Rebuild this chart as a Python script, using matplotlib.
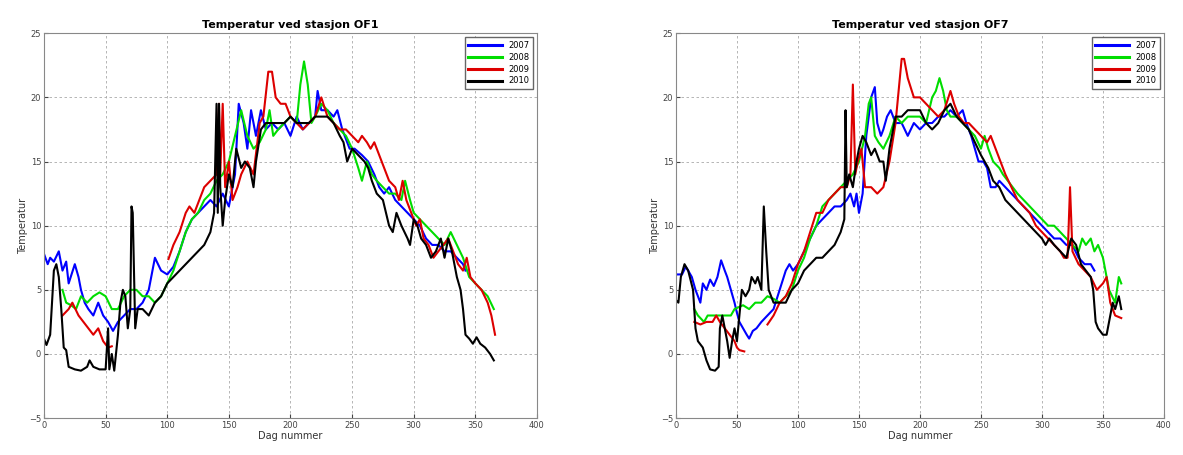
import matplotlib
matplotlib.use("Agg")
import matplotlib.pyplot as plt

years = ["2007", "2008", "2009", "2010"]
colors = ["#0000ff", "#00dd00", "#dd0000", "#000000"]
titles = ["Temperatur ved stasjon OF1", "Temperatur ved stasjon OF7"]
xlabel = "Dag nummer"
ylabel = "Temperatur"
xticks = [0, 50, 100, 150, 200, 250, 300, 350, 400]
yticks = [-5, 0, 5, 10, 15, 20, 25]

# ---------------- OF1 ----------------
of1_2007_day = [0, 3, 5, 8, 12, 15, 18, 20, 25, 28, 30, 33, 36, 40, 44, 48, 52, 56, 60, 65, 70, 75, 80, 85, 90, 95,
                100, 105, 110, 115, 120, 125, 130, 135, 140, 145, 150, 155, 158, 162, 165, 168, 172, 176, 180, 185,
                190, 195, 200, 205, 210, 215, 220, 222, 225, 230, 235, 238, 242, 248, 252, 258, 263, 268, 272, 276,
                280, 285, 290, 295, 300, 305, 310, 315, 320, 325, 330, 335, 340, 342]
of1_2007_temp = [7.8, 7.0, 7.5, 7.2, 8.0, 6.5, 7.2, 5.5, 7.0, 6.0, 5.0, 4.0, 3.5, 3.0, 4.0, 3.0, 2.5, 1.8, 2.5, 3.0,
                 3.5, 3.5, 4.0, 5.0, 7.5, 6.5, 6.2, 6.8, 8.0, 9.5, 10.5, 11.0, 11.5, 12.0, 11.5, 12.5, 11.5, 14.0,
                 19.5, 18.0, 16.0, 19.0, 17.0, 19.0, 17.5, 18.0, 17.5, 18.0, 17.0, 18.5, 17.5, 18.0, 18.5, 20.5,
                 19.0, 19.0, 18.5, 19.0, 17.5, 16.0, 16.0, 15.5, 15.0, 14.0, 13.0, 12.5, 13.0, 12.0, 11.5, 11.0,
                 10.5, 10.0, 9.0, 8.5, 8.5, 8.0, 8.0, 7.5, 7.0, 6.5]

of1_2008_day = [15, 18, 22, 26, 30, 35, 40, 45, 50, 55, 60, 65, 70, 75, 80, 85, 90, 95, 100, 105, 110, 115, 120, 125,
                130, 135, 140, 145, 150, 155, 160, 165, 170, 175, 180, 183, 186, 190, 195, 200, 205, 208, 211, 214,
                217, 220, 225, 230, 235, 240, 245, 250, 255, 258, 262, 266, 270, 275, 280, 285, 290, 293, 297, 300,
                305, 310, 315, 320, 325, 330, 335, 340, 345, 350, 355, 360, 365]
of1_2008_temp = [5.0, 4.0, 3.8, 3.5, 4.5, 4.0, 4.5, 4.8, 4.5, 3.5, 3.5, 4.5, 5.0, 5.0, 4.5, 4.5, 4.0, 4.5, 5.5, 6.5,
                 8.0, 9.5, 10.5, 11.0, 12.0, 12.5, 13.5, 14.0, 15.0, 17.0, 19.0, 17.0, 16.0, 16.5, 17.5, 19.0, 17.0,
                 17.5, 18.0, 18.5, 18.0, 21.0, 22.8, 21.0, 18.0, 18.5, 19.5, 19.0, 18.0, 17.5, 17.0, 16.0, 14.5,
                 13.5, 15.0, 14.0, 13.5, 13.0, 12.5, 12.5, 12.0, 13.5, 12.0, 11.0, 10.5, 10.0, 9.5, 9.0, 8.5, 9.5,
                 8.5, 7.5, 6.0, 5.5, 5.0, 4.5, 3.5]

of1_2009_day = [15, 20, 23, 28, 32, 36, 40, 44, 48, 52, 55, None, 101, 105, 110, 115, 118, 122, 126, 130, 135, 140,
                142, 143, 145, 147, 150, 153, 157, 160, 165, 170, 175, 178, 182, 185, 188, 192, 196, 200, 205, 210,
                215, 220, 225, 230, 235, 240, 245, 250, 255, 258, 262, 265, 268, 272, 276, 280, 285, 288, 291, 294,
                298, 302, 305, 308, 312, 316, 320, 324, 328, 332, 336, 340, 343, 346, 350, 355, 360, 363, 366]
of1_2009_temp = [3.0, 3.5, 4.0, 3.0, 2.5, 2.0, 1.5, 2.0, 1.0, 0.5, 0.6, None, 7.4, 8.5, 9.5, 11.0, 11.5, 11.0, 12.0,
                 13.0, 13.5, 14.0, 19.5, 14.0, 19.5, 13.0, 15.0, 12.0, 13.0, 14.0, 15.0, 14.0, 18.0, 18.5, 22.0,
                 22.0, 20.0, 19.5, 19.5, 18.5, 18.0, 17.5, 18.0, 18.5, 20.0, 18.5, 18.0, 17.5, 17.5, 17.0, 16.5,
                 17.0, 16.5, 16.0, 16.5, 15.5, 14.5, 13.5, 13.0, 12.0, 13.5, 12.0, 11.0, 10.0, 10.5, 9.0, 8.5, 7.5,
                 8.0, 8.5, 9.0, 8.0, 7.0, 6.5, 7.5, 6.0, 5.5, 5.0, 4.0, 3.0, 1.5]

of1_2010_day = [0, 2, 5, 8, 10, 12, 14, 16, 18, 20, 25, 30, 35, 37, 40, 45, 50, 52, 53, 55, 57, 60, 62, 64, 66, 68,
                70, 71, 72, 74, 76, 80, 85, 90, 95, 100, 105, 110, 115, 120, 125, 130, 135, 138, 140, 141, 142, 143,
                145, 147, 150, 153, 156, 160, 163, 167, 170, 172, 176, 180, 185, 190, 195, 200, 205, 210, 215, 220,
                225, 230, 235, 240, 243, 246, 250, 255, 260, 263, 266, 270, 275, 280, 283, 286, 290, 295, 297, 300,
                303, 306, 310, 314, 318, 322, 325, 328, 331, 335, 338, 340, 342, 345, 348, 351, 354, 358, 362, 365]
of1_2010_temp = [1.2, 0.7, 1.5, 6.5, 7.0, 6.0, 3.5, 0.5, 0.3, -1.0, -1.2, -1.3, -1.0, -0.5, -1.0, -1.2, -1.2, 2.0,
                 -1.2, 0.0, -1.3, 1.5, 4.0, 5.0, 4.5, 2.0, 3.5, 11.5, 11.0, 2.0, 3.5, 3.5, 3.0, 4.0, 4.5, 5.5, 6.0,
                 6.5, 7.0, 7.5, 8.0, 8.5, 9.5, 11.0, 19.5, 11.0, 19.5, 13.0, 10.0, 12.0, 14.0, 13.0, 16.0, 14.5,
                 15.0, 14.5, 13.0, 15.0, 17.5, 18.0, 18.0, 18.0, 18.0, 18.5, 18.0, 18.0, 18.0, 18.5, 18.5, 18.5,
                 18.0, 17.0, 16.5, 15.0, 16.0, 15.5, 15.0, 14.5, 13.5, 12.5, 12.0, 10.0, 9.5, 11.0, 10.0, 9.0, 8.5,
                 10.5, 10.0, 9.0, 8.5, 7.5, 8.0, 9.0, 7.5, 9.0, 8.0, 6.0, 5.0, 3.5, 1.5, 1.2, 0.8, 1.3, 0.8, 0.5,
                 0.0, -0.5]

# ---------------- OF7 ----------------
of7_2007_day = [0, 5, 8, 10, 13, 16, 18, 20, 22, 25, 28, 31, 34, 37, 40, 42, 45, 48, 50, 52, 55, 58, 60, 63, 66, 70,
                75, 80, 85, 90, 93, 96, 100, 105, 110, 115, 120, 125, 130, 135, 140, 143, 146, 148, 150, 153, 156,
                160, 163, 165, 168, 170, 173, 176, 180, 185, 190, 195, 200, 205, 210, 215, 220, 225, 230, 235, 238,
                242, 245, 248, 252, 255, 258, 262, 265, 270, 275, 280, 285, 290, 295, 300, 305, 310, 315, 320, 325,
                330, 335, 340, 343]
of7_2007_temp = [6.2, 6.2, 6.8, 6.5, 6.0, 5.0, 4.5, 4.0, 5.5, 5.0, 5.8, 5.3, 6.0, 7.3, 6.5, 6.0, 5.0, 4.0, 3.2, 2.5,
                 2.0, 1.5, 1.2, 1.8, 2.0, 2.5, 3.0, 3.5, 5.0, 6.5, 7.0, 6.5, 7.0, 8.0, 9.0, 10.0, 10.5, 11.0, 11.5,
                 11.5, 12.0, 12.5, 11.5, 12.5, 11.0, 12.5, 17.0, 20.0, 20.8, 18.0, 17.0, 17.5, 18.5, 19.0, 18.0,
                 18.0, 17.0, 18.0, 17.5, 18.0, 18.0, 18.5, 18.5, 19.0, 18.5, 19.0, 18.0, 17.0, 16.0, 15.0, 15.0,
                 14.5, 13.0, 13.0, 13.5, 13.0, 12.5, 12.0, 11.5, 11.0, 10.5, 10.0, 9.5, 9.0, 9.0, 8.5, 8.5, 7.5,
                 7.0, 7.0, 6.5]

of7_2008_day = [15, 18, 20, 23, 26, 30, 35, 40, 45, 48, 55, 60, 65, 70, 75, 80, 85, 90, 95, 100, 105, 110, 115, 120,
                125, 130, 135, 140, 145, 150, 155, 158, 160, 163, 166, 170, 175, 180, 185, 190, 195, 200, 205, 210,
                213, 216, 219, 222, 225, 230, 235, 240, 245, 250, 253, 256, 260, 265, 268, 272, 276, 280, 285, 290,
                295, 300, 305, 310, 315, 320, 325, 330, 333, 336, 340, 343, 346, 350, 355, 360, 363, 365]
of7_2008_temp = [3.5, 3.0, 2.8, 2.5, 3.0, 3.0, 3.0, 3.0, 3.0, 3.5, 3.8, 3.5, 4.0, 4.0, 4.5, 4.3, 4.0, 4.5, 5.0, 6.5,
                 7.5, 9.0, 10.0, 11.5, 12.0, 12.5, 13.0, 13.5, 14.0, 15.0, 17.0, 19.5, 20.0, 17.0, 16.5, 16.0, 17.0,
                 18.5, 18.0, 18.5, 18.5, 18.5, 18.0, 20.0, 20.5, 21.5, 20.5, 19.0, 18.5, 18.5, 18.0, 17.5, 17.0,
                 16.0, 17.0, 16.0, 15.0, 14.5, 14.0, 13.5, 13.0, 12.5, 12.0, 11.5, 11.0, 10.5, 10.0, 10.0, 9.5, 9.0,
                 8.5, 8.0, 9.0, 8.5, 9.0, 8.0, 8.5, 7.5, 5.0, 4.0, 6.0, 5.5]

of7_2009_day = [15, 20, 25, 30, 33, 36, 40, 44, 48, 50, 52, 56, None, 75, 80, 85, 90, 95, 100, 105, 110, 115, 120,
                125, 130, 135, 140, 143, 145, 147, 149, 152, 155, 160, 165, 170, 175, 180, 183, 185, 187, 190, 195,
                200, 205, 210, 215, 220, 225, 228, 232, 236, 240, 245, 250, 255, 258, 262, 266, 270, 275, 280, 285,
                290, 295, 300, 305, 310, 315, 318, 321, 323, 325, 330, 335, 340, 345, 350, 353, 356, 360, 365]
of7_2009_temp = [2.5, 2.3, 2.5, 2.5, 3.0, 2.5, 2.0, 1.5, 1.0, 0.5, 0.3, 0.2, None, 2.3, 3.0, 4.0, 4.5, 5.5, 7.0, 8.0,
                 9.5, 11.0, 11.0, 12.0, 12.5, 13.0, 13.0, 14.0, 21.0, 14.0, 15.0, 16.0, 13.0, 13.0, 12.5, 13.0,
                 15.0, 18.0, 21.0, 23.0, 23.0, 21.5, 20.0, 20.0, 19.5, 19.0, 18.5, 19.0, 20.5, 19.5, 18.5, 18.0,
                 18.0, 17.5, 17.0, 16.5, 17.0, 16.0, 15.0, 14.0, 13.0, 12.0, 11.5, 11.0, 10.0, 9.5, 9.0, 8.5, 8.0,
                 7.5, 7.5, 13.0, 8.0, 7.0, 6.5, 6.0, 5.0, 5.5, 6.0, 4.0, 3.0, 2.8]

of7_2010_day = [0, 2, 4, 7, 10, 14, 16, 18, 22, 25, 28, 32, 35, 36, 38, 40, 42, 44, 46, 48, 50, 52, 54, 57, 60, 62,
                65, 67, 70, 72, 74, 76, 78, 80, 85, 90, 95, 100, 105, 110, 115, 120, 125, 130, 135, 138, 139, 140,
                142, 145, 148, 150, 153, 156, 160, 163, 167, 170, 172, 175, 180, 185, 190, 195, 200, 205, 210, 215,
                220, 225, 230, 235, 240, 245, 250, 253, 256, 260, 265, 270, 275, 280, 285, 290, 295, 300, 303, 306,
                310, 315, 320, 324, 328, 332, 336, 340, 342, 344, 346, 350, 353, 355, 358, 360, 363, 365]
of7_2010_temp = [4.2, 4.0, 6.0, 7.0, 6.5, 5.0, 2.0, 1.0, 0.5, -0.5, -1.2, -1.3, -1.0, 2.0, 3.0, 2.0, 1.0, -0.3, 1.0,
                 2.0, 1.0, 3.0, 5.0, 4.5, 5.0, 6.0, 5.5, 6.0, 5.0, 11.5, 8.0, 5.0, 4.5, 4.0, 4.0, 4.0, 5.0, 5.5,
                 6.5, 7.0, 7.5, 7.5, 8.0, 8.5, 9.5, 10.5, 19.0, 13.0, 14.0, 13.0, 15.0, 16.0, 17.0, 16.5, 15.5,
                 16.0, 15.0, 15.0, 13.5, 16.0, 18.5, 18.5, 19.0, 19.0, 19.0, 18.0, 17.5, 18.0, 19.0, 19.5, 18.5,
                 18.0, 17.5, 16.5, 15.5, 15.0, 14.5, 13.5, 13.0, 12.0, 11.5, 11.0, 10.5, 10.0, 9.5, 9.0, 8.5, 9.0,
                 8.5, 8.0, 7.5, 9.0, 8.5, 7.0, 6.5, 6.0, 5.0, 2.5, 2.0, 1.5, 1.5, 2.5, 4.0, 3.5, 4.5, 3.5]

stations = [
    [(of1_2007_day, of1_2007_temp), (of1_2008_day, of1_2008_temp),
     (of1_2009_day, of1_2009_temp), (of1_2010_day, of1_2010_temp)],
    [(of7_2007_day, of7_2007_temp), (of7_2008_day, of7_2008_temp),
     (of7_2009_day, of7_2009_temp), (of7_2010_day, of7_2010_temp)],
]


def clean(v):
    return [float("nan") if a is None else a for a in v]


fig = plt.figure(figsize=(11.83, 4.55), dpi=100)
axes_rects = [[0.0372, 0.081, 0.4167, 0.846], [0.5714, 0.081, 0.4125, 0.846]]

for rect, title, series in zip(axes_rects, titles, stations):
    ax = fig.add_axes(rect)
    for (d, t), c, lab in zip(series, colors, years):
        ax.plot(clean(d), clean(t), color=c, lw=1.5, label=lab)
    ax.set_xlim(0, 400)
    ax.set_ylim(-5, 25)
    ax.set_xticks(xticks)
    ax.set_yticks(yticks)
    ax.tick_params(direction="in", labelsize=6, length=3, colors="#444444", pad=2)
    ax.grid(True, linestyle=(0, (3, 3)), color="#aaaaaa", lw=0.6)
    for s in ax.spines.values():
        s.set_color("#888888")
        s.set_linewidth(0.8)
    ax.set_title(title, fontsize=8, fontweight="bold", pad=4)
    ax.set_xlabel(xlabel, fontsize=7, color="#333333", labelpad=1)
    ax.set_ylabel(ylabel, fontsize=7, color="#333333", labelpad=1)
    leg = ax.legend(loc="upper right", fontsize=6, handlelength=4, borderpad=0.4,
                    labelspacing=0.35, fancybox=False, framealpha=1, edgecolor="#666666")
    for ln in leg.get_lines():
        ln.set_linewidth(2.2)

fig.savefig("out.png", dpi=100)
